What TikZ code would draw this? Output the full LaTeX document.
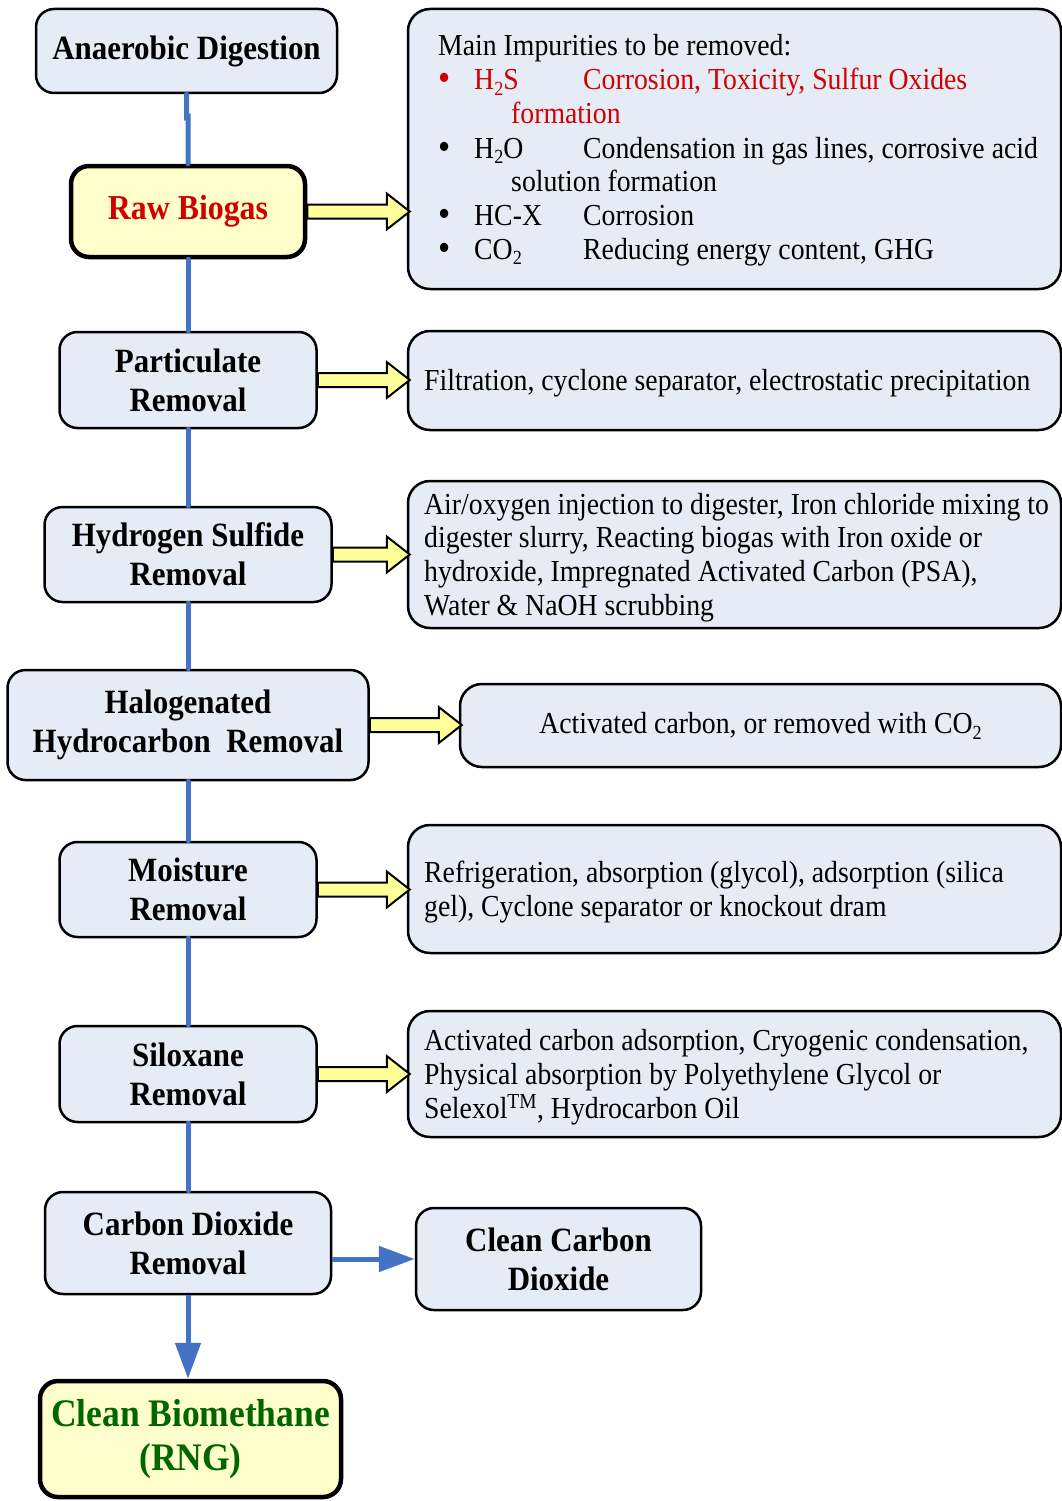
\documentclass[tikz,border=0pt]{standalone}
\usepackage{fontspec}
\usepackage{graphicx}
\setmainfont{Liberation Serif}[FakeStretch=0.91]
\usetikzlibrary{calc,arrows.meta}
\definecolor{boxblue}{HTML}{E6ECF6}
\definecolor{boxyellow}{HTML}{FFFFCC}
\definecolor{arrowyellow}{HTML}{FFFF99}
\definecolor{lineblue}{HTML}{4472C4}
\definecolor{txtred}{HTML}{D00000}
\definecolor{txtgreen}{HTML}{006600}
\newcommand\titlefont{\bfseries\fontsize{34}{39}\selectfont}
\newcommand\bigtitlefont{\bfseries\fontsize{39}{44}\selectfont}
\newcommand\bodyfont{\fontsize{30.5}{34}\selectfont}
\newcommand\lowsub[1]{\raisebox{-0.42ex}{\fontsize{20}{20}\selectfont #1}}
\newcommand\blockarrow[2]{%
  \draw[yarrow] let \p1=(#1.east), \p2=(#2.west) in
  (\x1,\y1+7pt) -- (\x2-20pt,\y1+7pt) -- (\x2-20pt,\y1+18pt) -- (\x2+3pt,\y1)
  -- (\x2-20pt,\y1-18pt) -- (\x2-20pt,\y1-7pt) -- (\x1,\y1-7pt) -- cycle;}
\newcommand\bul[2]{\makebox[36pt][l]{\smash{\raisebox{-1pt}{\scalebox{1.25}{\textbullet}}}}\makebox[109pt][l]{#1}#2}
\begin{document}
\begin{tikzpicture}[x=1pt,y=-1pt,
  lbox/.style={draw=black, line width=2.5pt, fill=boxblue, rounded corners=18pt,
    align=center, font=\titlefont, inner sep=0pt},
  thickbox/.style={lbox, line width=4.5pt, fill=boxyellow},
  rbox/.style={draw=black, line width=2.5pt, fill=boxblue, rounded corners=22pt,
    inner sep=0pt, font=\bodyfont},
  rtext/.style={anchor=base west, inner sep=0pt, font=\bodyfont},
  yarrow/.style={draw=black, line width=2pt, fill=arrowyellow, line join=miter},
  blueline/.style={draw=lineblue, line width=5pt, line cap=round},
  bluearrow/.style={draw=lineblue, line width=5pt,
    -{Triangle[length=36pt,width=25pt]}},
]
\useasboundingbox (0,0) rectangle (1062,1501);

% left column
\node[lbox, minimum width=301pt, minimum height=84pt] (ad) at (186.5,51) {Anaerobic Digestion};
\node[thickbox, minimum width=234pt, minimum height=91pt, font=\bfseries\fontsize{35}{39}\selectfont, text=txtred] (rb) at (188,211.5) {Raw Biogas};
\node[lbox, minimum width=257pt, minimum height=96pt] (pr) at (188,380) {Particulate\\Removal};
\node[lbox, minimum width=287pt, minimum height=95pt] (hs) at (188,554.5) {Hydrogen Sulfide\\Removal};
\node[lbox, minimum width=361pt, minimum height=110pt] (hh) at (188,725) {Halogenated\\Hydrocarbon\ \ Removal};
\node[lbox, minimum width=257pt, minimum height=95pt] (mr) at (188,889.5) {Moisture\\Removal};
\node[lbox, minimum width=257pt, minimum height=96pt] (sr) at (188,1074) {Siloxane\\Removal};
\node[lbox, minimum width=286pt, minimum height=102pt] (cd) at (188,1243) {Carbon Dioxide\\Removal};
\node[lbox, minimum width=285pt, minimum height=102pt] (cc) at (558.5,1259) {Clean Carbon\\Dioxide};
\node[thickbox, minimum width=301pt, minimum height=116pt, font=\bigtitlefont, text=txtgreen] (cb) at (190.5,1439) {Clean Biomethane\\(RNG)};

% right column boxes
\node[rbox, minimum width=653pt, minimum height=280pt] (r1) at (734.5,149) {};
\node[rbox, minimum width=653pt, minimum height=99pt] (r2) at (734.5,380.5) {};
\node[rbox, minimum width=653pt, minimum height=147pt] (r3) at (734.5,554.5) {};
\node[rbox, minimum width=601pt, minimum height=83pt] (r4) at (760.5,725.5) {Activated carbon, or removed with CO\lowsub{2}};
\node[rbox, minimum width=653pt, minimum height=128pt] (r5) at (734.5,889) {};
\node[rbox, minimum width=653pt, minimum height=126pt] (r6) at (734.5,1074) {};

% right texts
\node[rtext] (t1a) at (438,56) {Main Impurities to be removed:};
\node[rtext, text=txtred] (t1b) at (438,90) {\bul{H\lowsub{2}S}{Corrosion, Toxicity, Sulfur Oxides}};
\node[rtext, text=txtred] (t1c) at (511,124) {formation};
\node[rtext] (t1d) at (438,158) {\bul{H\lowsub{2}O}{Condensation in gas lines, corrosive acid}};
\node[rtext] (t1e) at (511,191) {solution formation};
\node[rtext] (t1f) at (438,225) {\bul{HC-X}{Corrosion}};
\node[rtext] (t1g) at (438,259) {\bul{CO\lowsub{2}}{Reducing energy content, GHG}};

\node[rtext] (t2a) at (424,390) {Filtration, cyclone separator, electrostatic precipitation};

\node[rtext] (t3a) at (424,514) {Air/oxygen injection to digester, Iron chloride mixing to};
\node[rtext] (t3b) at (424,547) {digester slurry, Reacting biogas with Iron oxide or};
\node[rtext] (t3c) at (424,581) {hydroxide, Impregnated Activated Carbon (PSA),};
\node[rtext] (t3d) at (424,615) {Water \& NaOH scrubbing};

\node[rtext] (t5a) at (424,882) {Refrigeration, absorption (glycol), adsorption (silica};
\node[rtext] (t5b) at (424,916) {gel), Cyclone separator or knockout dram};

\node[rtext] (t6a) at (424,1050) {Activated carbon adsorption, Cryogenic condensation,};
\node[rtext] (t6b) at (424,1084) {Physical absorption by Polyethylene Glycol or};
\node[rtext] (t6c) at (424,1118) {Selexol\textsuperscript{TM}, Hydrocarbon Oil};

% blue connectors
\draw[blueline] (ad.south) -- ++(0,23) -- ($(rb.north)-(0,47)$) -- (rb.north);
\draw[blueline] (rb.south) -- (pr.north);
\draw[blueline] (pr.south) -- (hs.north);
\draw[blueline] (hs.south) -- (hh.north);
\draw[blueline] (hh.south) -- (mr.north);
\draw[blueline] (mr.south) -- (sr.north);
\draw[blueline] (sr.south) -- (cd.north);
\draw[bluearrow] (cd.east |- cc.west) -- (cc.west);
\draw[bluearrow] (cd.south) -- (cd.south |- cb.north);

% yellow block arrows
\blockarrow{rb}{r1}
\blockarrow{pr}{r2}
\blockarrow{hs}{r3}
\blockarrow{hh}{r4}
\blockarrow{mr}{r5}
\blockarrow{sr}{r6}
\end{tikzpicture}
\end{document}
